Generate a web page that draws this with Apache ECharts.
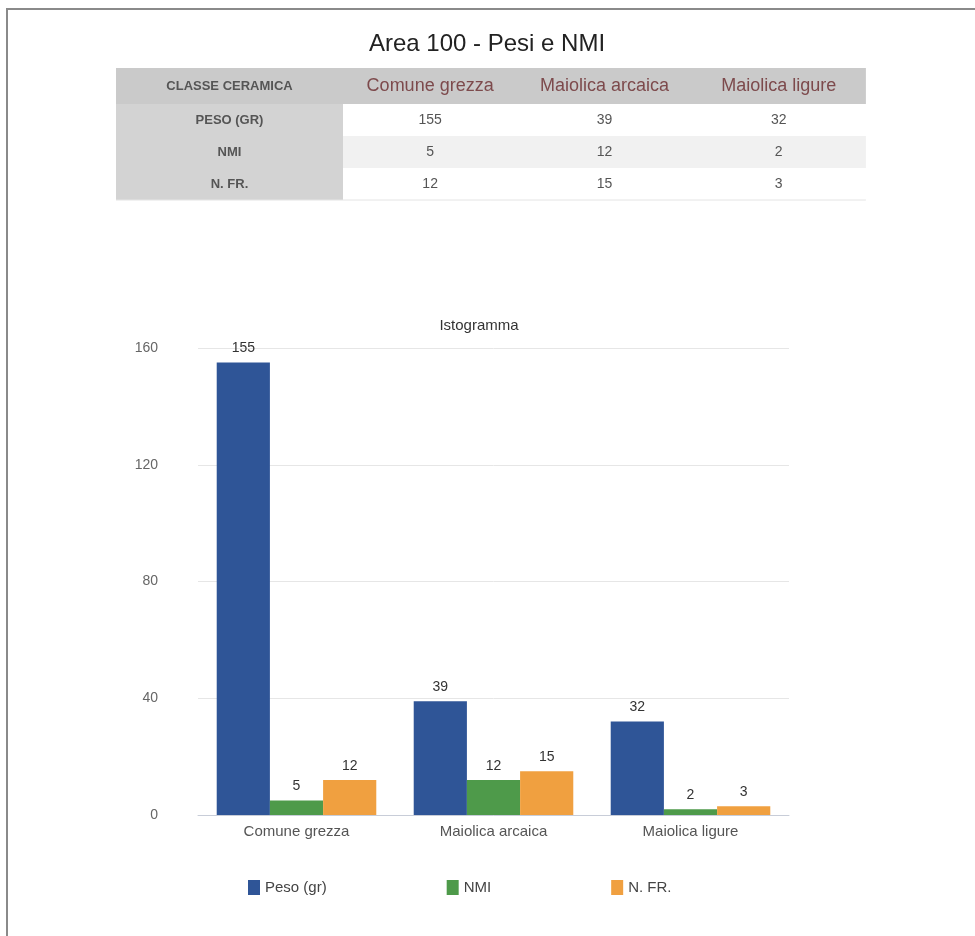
<!DOCTYPE html>
<html>
<head>
<meta charset="utf-8">
<script src="https://cdn.jsdelivr.net/npm/echarts@6/dist/echarts.min.js"></script>
<style>
html,body{margin:0;padding:0;background:#fff;}
#main{width:975px;height:936px;}
</style>
</head>
<body>
<div id="main"></div>
<script>
const categories = ['Comune grezza', 'Maiolica arcaica', 'Maiolica ligure'];
const seriesNames = ['Peso (gr)', 'NMI', 'N. FR.'];
const rowLabels = ['PESO (GR)', 'NMI', 'N. FR.'];
const peso = [155, 39, 32];
const nmi = [5, 12, 2];
const nfr = [12, 15, 3];
const yTicks = [0, 40, 80, 120, 160];

const FONT = '"Liberation Sans", Arial, Helvetica, sans-serif';
const colors = ['#2f5597', '#4e9a4a', '#f0a040'];

// Table built from the data arrays
const tableValues = [peso, nmi, nfr];
const tLeft = 116, col0W = 227, colW = 174.3, headTop = 68, headH = 36, rowH = 32;
const tRight = tLeft + col0W + colW * categories.length;
const graphics = [];
// frame
graphics.push({type:'rect', shape:{x:7, y:9, width:1100, height:1100}, style:{fill:'none', stroke:'#8a8a8a', lineWidth:2}, silent:true});
// title
graphics.push({type:'text', x:487, y:44, style:{text:'Area 100 - Pesi e NMI', font:'24px ' + FONT, fill:'#222', textAlign:'center', textVerticalAlign:'middle'}});
// header background
graphics.push({type:'rect', shape:{x:tLeft, y:headTop, width:tRight - tLeft, height:headH}, style:{fill:'#cacaca'}});
graphics.push({type:'text', x:tLeft + col0W/2, y:headTop + headH/2, style:{text:'CLASSE CERAMICA', font:'bold 13px ' + FONT, fill:'#555', textAlign:'center', textVerticalAlign:'middle'}});
categories.forEach((c, i) => {
  graphics.push({type:'text', x:tLeft + col0W + colW*(i+0.5), y:headTop + headH/2, style:{text:c, font:'18px ' + FONT, fill:'#7d4a4c', textAlign:'center', textVerticalAlign:'middle'}});
});
rowLabels.forEach((r, ri) => {
  const y = headTop + headH + rowH*ri;
  graphics.push({type:'rect', shape:{x:tLeft, y:y, width:col0W, height:rowH}, style:{fill:'#d3d3d3'}});
  graphics.push({type:'rect', shape:{x:tLeft + col0W, y:y, width:colW*categories.length, height:rowH}, style:{fill: ri % 2 === 1 ? '#f1f1f1' : '#ffffff'}});
  graphics.push({type:'text', x:tLeft + col0W/2, y:y + rowH/2, style:{text:r, font:'bold 13px ' + FONT, fill:'#555', textAlign:'center', textVerticalAlign:'middle'}});
  tableValues[ri].forEach((v, ci) => {
    graphics.push({type:'text', x:tLeft + col0W + colW*(ci+0.5), y:y + rowH/2, style:{text:String(v), font:'14px ' + FONT, fill:'#555', textAlign:'center', textVerticalAlign:'middle'}});
  });
});
graphics.push({type:'line', shape:{x1:tLeft, y1:headTop + headH + rowH*3, x2:tRight, y2:headTop + headH + rowH*3}, style:{stroke:'#e4e4e4', lineWidth:1}});

const chart = echarts.init(document.getElementById('main'), null, {renderer:'canvas'});
const seriesData = [peso, nmi, nfr];
chart.setOption({
  backgroundColor:'#ffffff',
  animation:false,
  textStyle:{fontFamily:FONT},
  title:{text:'Istogramma', left:474, top:313, textAlign:'center',
    textStyle:{fontSize:15, fontWeight:'normal', color:'#333', fontFamily:FONT}},
  legend:{left:243, top:875, itemWidth:12, itemHeight:15, itemGap:120,
    icon:'rect', data:seriesNames,
    textStyle:{fontSize:15, color:'#444', fontFamily:FONT}},
  grid:{left:198, right:186, top:348, bottom:121, containLabel:false},
  xAxis:{type:'category', data:categories,
    axisLine:{show:true, lineStyle:{color:'#c8cdd8'}},
    axisTick:{show:false},
    axisLabel:{fontSize:15, color:'#555', margin:9, fontFamily:FONT}},
  yAxis:{type:'value', min:yTicks[0], max:yTicks[yTicks.length-1], interval:40,
    axisLine:{show:false}, axisTick:{show:false},
    splitLine:{lineStyle:{color:'#e6e6e6'}},
    axisLabel:{fontSize:14, color:'#666', margin:40, fontFamily:FONT}},
  series: seriesNames.map((n, i) => ({
    name:n, type:'bar', data:seriesData[i],
    barGap:'0%', barCategoryGap:'19%',
    itemStyle:{color:colors[i]},
    label:{show:true, position:'top', distance:7, fontSize:14, color:'#333', fontFamily:FONT}
  })),
  graphic: graphics
});
</script>
</body>
</html>
